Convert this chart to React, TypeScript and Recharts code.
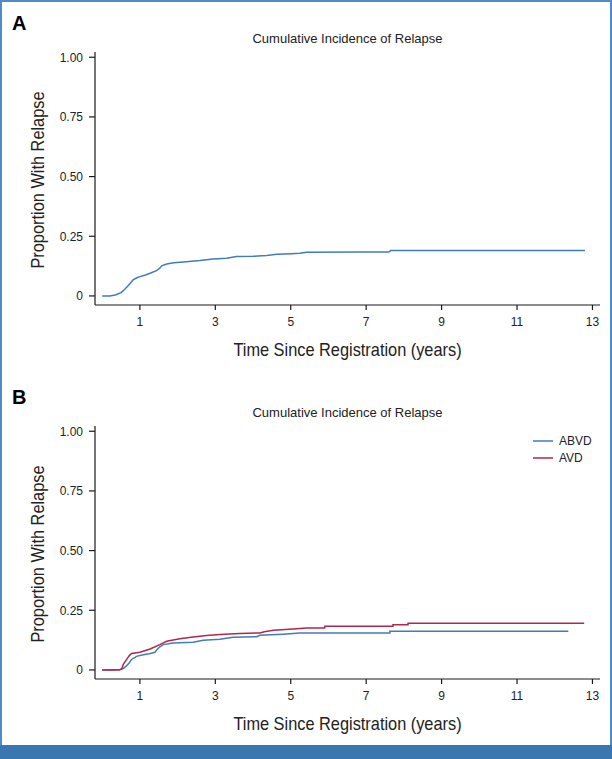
import React from 'react';
import { LineChart, Line, XAxis, YAxis } from 'recharts';

// Panel A: all patients
const overallTime = [0, 0.2, 0.35, 0.5, 0.6, 0.7, 0.82, 0.92, 1.0, 1.15, 1.27, 1.44, 1.52, 1.58, 1.71, 1.9, 2.15, 2.59, 2.94, 3.3, 3.56, 4.0, 4.36, 4.63, 5.0, 5.24, 5.42, 6.84, 7.6, 7.65, 12.8];
const overallValue = [0, 0, 0.004, 0.014, 0.028, 0.045, 0.067, 0.076, 0.081, 0.088, 0.095, 0.106, 0.115, 0.126, 0.134, 0.139, 0.142, 0.148, 0.155, 0.158, 0.165, 0.166, 0.169, 0.175, 0.177, 0.179, 0.183, 0.184, 0.184, 0.19, 0.19];

// Panel B: by arm
const abvdTime = [0, 0.5, 0.58, 0.65, 0.72, 0.78, 0.91, 1.09, 1.25, 1.4, 1.45, 1.53, 1.62, 1.88, 2.41, 2.68, 3.12, 3.47, 4.1, 4.18, 4.8, 5.24, 7.63, 7.63, 12.36];
const abvdValue = [0, 0.002, 0.008, 0.018, 0.03, 0.044, 0.057, 0.064, 0.068, 0.074, 0.085, 0.097, 0.106, 0.113, 0.116, 0.124, 0.129, 0.137, 0.139, 0.145, 0.15, 0.155, 0.155, 0.162, 0.162];

const avdTime = [0, 0.45, 0.52, 0.56, 0.65, 0.72, 0.78, 1.0, 1.27, 1.53, 1.71, 2.06, 2.41, 2.77, 3.12, 3.65, 4.18, 4.3, 4.54, 5.07, 5.42, 5.9, 5.9, 7.71, 7.71, 8.11, 8.11, 12.78];
const avdValue = [0, 0, 0.005, 0.023, 0.044, 0.06, 0.069, 0.074, 0.088, 0.106, 0.12, 0.131, 0.138, 0.144, 0.148, 0.153, 0.155, 0.16, 0.166, 0.172, 0.176, 0.176, 0.183, 0.183, 0.189, 0.189, 0.196, 0.196];

const xTicks = [1, 3, 5, 7, 9, 11, 13];
const yTicks = [0, 0.25, 0.5, 0.75, 1];

const toSeries = (t: number[], v: number[]) => t.map((x, i) => ({ t: x, v: v[i] }));

const overallData = toSeries(overallTime, overallValue);
const abvdData = toSeries(abvdTime, abvdValue);
const avdData = toSeries(avdTime, avdValue);

const BLUE = '#3f7dba';
const RED = '#b0284a';
const sans = "'Liberation Sans', Arial, Helvetica, sans-serif";

const tickStyle = { fontSize: 12, fill: '#222', fontFamily: sans };

const legendItems = [
  { name: 'ABVD', color: BLUE },
  { name: 'AVD', color: RED },
];

function Panel({ top, letter, children, legend }: { top: number; letter: string; children: React.ReactNode; legend?: boolean }) {
  return (
    <div style={{ position: 'absolute', left: 0, top, width: 612, height: 370 }}>
      <div style={{ position: 'absolute', left: 12, top: 12, fontFamily: sans, fontWeight: 'bold', fontSize: 20, lineHeight: '22px' }}>
        {letter}
      </div>
      <div style={{ position: 'absolute', left: 95, width: 505, top: 31, textAlign: 'center', fontFamily: sans, fontSize: 13, lineHeight: '16px', color: '#222' }}>
        Cumulative Incidence of Relapse
      </div>
      <div
        style={{
          position: 'absolute',
          left: 38,
          top: 180,
          transform: 'translate(-50%, -50%) rotate(-90deg) scaleX(0.86)',
          whiteSpace: 'nowrap',
          fontFamily: sans,
          fontSize: 19,
          lineHeight: '22px',
          color: '#222',
        }}
      >
        Proportion With Relapse
      </div>
      <div
        style={{
          position: 'absolute',
          left: 95,
          width: 505,
          top: 339,
          textAlign: 'center',
          fontFamily: sans,
          fontSize: 19,
          lineHeight: '22px',
          color: '#222',
          transform: 'scaleX(0.86)',
        }}
      >
        Time Since Registration (years)
      </div>
      {legend && (
        <div style={{ position: 'absolute', left: 533, top: 58, fontFamily: sans, fontSize: 12, color: '#222' }}>
          {legendItems.map((item) => (
            <div key={item.name} style={{ display: 'flex', alignItems: 'center', height: 17 }}>
              <svg width={20} height={4} style={{ display: 'block' }}>
                <line x1={0} x2={20} y1={2} y2={2} stroke={item.color} strokeWidth={1.5} />
              </svg>
              <span style={{ marginLeft: 6 }}>{item.name}</span>
            </div>
          ))}
        </div>
      )}
      <LineChart width={612} height={340} margin={{ top: 52, right: 12, left: 35, bottom: 5 }} style={{ position: 'absolute', left: 0, top: 0 }}>
        <XAxis
          type="number"
          dataKey="t"
          domain={[-0.19, 13.2]}
          allowDataOverflow
          ticks={xTicks}
          tick={tickStyle}
          tickSize={5}
          tickMargin={7}
          height={30}
          stroke="#1a1a1a"
          strokeWidth={1.2}
        />
        <YAxis
          type="number"
          dataKey="v"
          domain={[-0.038, 1.022]}
          allowDataOverflow
          ticks={yTicks}
          tick={tickStyle}
          tickFormatter={(v: number) => (v === 0 ? '0' : v.toFixed(2))}
          tickSize={6}
          tickMargin={6}
          width={60}
          stroke="#1a1a1a"
          strokeWidth={1.2}
        />
        {children}
      </LineChart>
    </div>
  );
}

export default function App() {
  return (
    <div style={{ position: 'absolute', left: 0, top: 0, width: 612, height: 759, background: '#fff', overflow: 'hidden' }}>
      <Panel top={0} letter="A">
        <Line data={overallData} dataKey="v" name="Overall" type="linear" stroke={BLUE} strokeWidth={1.5} dot={false} isAnimationActive={false} />
      </Panel>
      <Panel top={374} letter="B" legend>
        <Line data={abvdData} dataKey="v" name="ABVD" type="linear" stroke={BLUE} strokeWidth={1.5} dot={false} isAnimationActive={false} />
        <Line data={avdData} dataKey="v" name="AVD" type="linear" stroke={RED} strokeWidth={1.5} dot={false} isAnimationActive={false} />
      </Panel>
      <div
        style={{
          position: 'absolute',
          left: 0,
          top: 0,
          width: 612,
          height: 745,
          boxSizing: 'border-box',
          borderLeft: '2px solid #4f8bc5',
          borderRight: '2px solid #4f8bc5',
          borderTop: '2px solid #4f8bc5',
          pointerEvents: 'none',
        }}
      />
      <div style={{ position: 'absolute', left: 0, top: 745, width: 612, height: 14, background: '#3a77b0' }} />
    </div>
  );
}
